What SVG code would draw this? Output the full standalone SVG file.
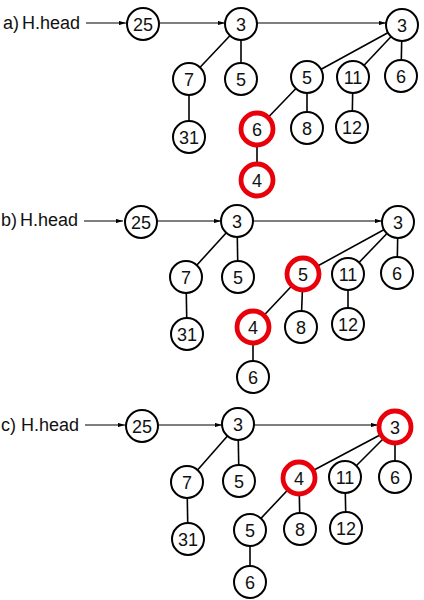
<svg xmlns="http://www.w3.org/2000/svg" width="424" height="600" viewBox="0 0 424 600">
<style>
.n circle{fill:#fff;stroke:#000;stroke-width:2}
.n.r circle{stroke:#e8000b;stroke-width:4.8}
.n text,.lbl{font-family:"Liberation Sans",Arial,sans-serif;font-size:18px;fill:#111}
.n text{text-anchor:middle}
.e line{stroke:#000;stroke-width:1.6}
.e line.a{stroke-width:1.2;marker-end:url(#ah)}
</style>
<defs>
<marker id="ah" viewBox="0 0 10 6" refX="10" refY="3" markerWidth="7" markerHeight="4.5" markerUnits="userSpaceOnUse" orient="auto"><path d="M0,0L10,3L0,6z" fill="#000"/></marker>
</defs>
<rect width="424" height="600" fill="#fff"/>
<g id="labels">
<text class="lbl" x="3" y="29">a)</text><text class="lbl" x="22" y="29">H.head</text>
<text class="lbl" x="1" y="226">b)</text><text class="lbl" x="20" y="226">H.head</text>
<text class="lbl" x="1" y="431">c)</text><text class="lbl" x="21" y="431">H.head</text>
</g>
<g id="connectors" class="e">
<line class="a" x1="86" y1="23" x2="126" y2="23"/>
<line class="a" x1="160" y1="23" x2="225" y2="23"/>
<line class="a" x1="257" y1="23" x2="386" y2="23"/>
<line x1="241" y1="24" x2="189" y2="79"/>
<line x1="241" y1="24" x2="241" y2="79"/>
<line x1="189" y1="79" x2="189" y2="137"/>
<line x1="402" y1="25" x2="307" y2="77"/>
<line x1="402" y1="25" x2="353" y2="77"/>
<line x1="402" y1="25" x2="401" y2="76"/>
<line x1="307" y1="77" x2="257" y2="129"/>
<line x1="307" y1="77" x2="307" y2="128"/>
<line x1="353" y1="77" x2="352" y2="127"/>
<line x1="257" y1="129" x2="257" y2="180"/>
<line class="a" x1="84" y1="221" x2="123" y2="221"/>
<line class="a" x1="157" y1="221" x2="221" y2="221"/>
<line class="a" x1="253" y1="221" x2="382" y2="221"/>
<line x1="237" y1="221" x2="186" y2="277"/>
<line x1="237" y1="221" x2="238" y2="277"/>
<line x1="186" y1="277" x2="187" y2="334"/>
<line x1="398" y1="222" x2="303" y2="274"/>
<line x1="398" y1="222" x2="348" y2="274"/>
<line x1="398" y1="222" x2="397" y2="273"/>
<line x1="303" y1="274" x2="253" y2="327"/>
<line x1="303" y1="274" x2="301" y2="327"/>
<line x1="348" y1="274" x2="348" y2="324"/>
<line x1="253" y1="327" x2="253" y2="377"/>
<line class="a" x1="85" y1="425" x2="125" y2="425"/>
<line class="a" x1="159" y1="425" x2="222" y2="425"/>
<line class="a" x1="254" y1="425" x2="378" y2="425"/>
<line x1="238" y1="424" x2="187" y2="482"/>
<line x1="238" y1="424" x2="239" y2="481"/>
<line x1="187" y1="482" x2="188" y2="539"/>
<line x1="395" y1="427" x2="299" y2="478"/>
<line x1="395" y1="427" x2="345" y2="477"/>
<line x1="395" y1="427" x2="395" y2="477"/>
<line x1="299" y1="478" x2="250" y2="530"/>
<line x1="299" y1="478" x2="300" y2="529"/>
<line x1="345" y1="477" x2="346" y2="528"/>
<line x1="250" y1="530" x2="250" y2="582"/>
</g>
<g id="a25" class="n"><circle cx="143" cy="24" r="16"/><text x="143" y="30.5">25</text></g>
<g id="a3" class="n"><circle cx="241" cy="24" r="16"/><text x="241" y="30.5">3</text></g>
<g id="a3b" class="n"><circle cx="402" cy="25" r="16"/><text x="402" y="31.5">3</text></g>
<g id="a7" class="n"><circle cx="189" cy="79" r="16"/><text x="189" y="85.5">7</text></g>
<g id="a5" class="n"><circle cx="241" cy="79" r="16"/><text x="241" y="85.5">5</text></g>
<g id="a31" class="n"><circle cx="189" cy="137" r="16"/><text x="189" y="143.5">31</text></g>
<g id="a5b" class="n"><circle cx="307" cy="77" r="16"/><text x="307" y="83.5">5</text></g>
<g id="a11" class="n"><circle cx="353" cy="77" r="16"/><text x="353" y="83.5">11</text></g>
<g id="a6" class="n"><circle cx="401" cy="76" r="16"/><text x="401" y="82.5">6</text></g>
<g id="a6r" class="n r"><circle cx="257" cy="129" r="16"/><text x="257" y="135.5">6</text></g>
<g id="a8" class="n"><circle cx="307" cy="128" r="16"/><text x="307" y="134.5">8</text></g>
<g id="a12" class="n"><circle cx="352" cy="127" r="16"/><text x="352" y="133.5">12</text></g>
<g id="a4r" class="n r"><circle cx="257" cy="180" r="16"/><text x="257" y="186.5">4</text></g>
<g id="b25" class="n"><circle cx="141" cy="222" r="16"/><text x="141" y="228.5">25</text></g>
<g id="b3" class="n"><circle cx="237" cy="221" r="16"/><text x="237" y="227.5">3</text></g>
<g id="b3b" class="n"><circle cx="398" cy="222" r="16"/><text x="398" y="228.5">3</text></g>
<g id="b7" class="n"><circle cx="186" cy="277" r="16"/><text x="186" y="283.5">7</text></g>
<g id="b5" class="n"><circle cx="238" cy="277" r="16"/><text x="238" y="283.5">5</text></g>
<g id="b31" class="n"><circle cx="187" cy="334" r="16"/><text x="187" y="340.5">31</text></g>
<g id="b5r" class="n r"><circle cx="303" cy="274" r="16"/><text x="303" y="280.5">5</text></g>
<g id="b11" class="n"><circle cx="348" cy="274" r="16"/><text x="348" y="280.5">11</text></g>
<g id="b6" class="n"><circle cx="397" cy="273" r="16"/><text x="397" y="279.5">6</text></g>
<g id="b4r" class="n r"><circle cx="253" cy="327" r="16"/><text x="253" y="333.5">4</text></g>
<g id="b8" class="n"><circle cx="301" cy="327" r="16"/><text x="301" y="333.5">8</text></g>
<g id="b12" class="n"><circle cx="348" cy="324" r="16"/><text x="348" y="330.5">12</text></g>
<g id="b6c" class="n"><circle cx="253" cy="377" r="16"/><text x="253" y="383.5">6</text></g>
<g id="c25" class="n"><circle cx="142" cy="426" r="16"/><text x="142" y="432.5">25</text></g>
<g id="c3" class="n"><circle cx="238" cy="424" r="16"/><text x="238" y="430.5">3</text></g>
<g id="c3r" class="n r"><circle cx="395" cy="427" r="16"/><text x="395" y="433.5">3</text></g>
<g id="c7" class="n"><circle cx="187" cy="482" r="16"/><text x="187" y="488.5">7</text></g>
<g id="c5" class="n"><circle cx="239" cy="481" r="16"/><text x="239" y="487.5">5</text></g>
<g id="c31" class="n"><circle cx="188" cy="539" r="16"/><text x="188" y="545.5">31</text></g>
<g id="c4r" class="n r"><circle cx="299" cy="478" r="16"/><text x="299" y="484.5">4</text></g>
<g id="c11" class="n"><circle cx="345" cy="477" r="16"/><text x="345" y="483.5">11</text></g>
<g id="c6" class="n"><circle cx="395" cy="477" r="16"/><text x="395" y="483.5">6</text></g>
<g id="c5b" class="n"><circle cx="250" cy="530" r="16"/><text x="250" y="536.5">5</text></g>
<g id="c8" class="n"><circle cx="300" cy="529" r="16"/><text x="300" y="535.5">8</text></g>
<g id="c12" class="n"><circle cx="346" cy="528" r="16"/><text x="346" y="534.5">12</text></g>
<g id="c6b" class="n"><circle cx="250" cy="582" r="16"/><text x="250" y="588.5">6</text></g>
</svg>
